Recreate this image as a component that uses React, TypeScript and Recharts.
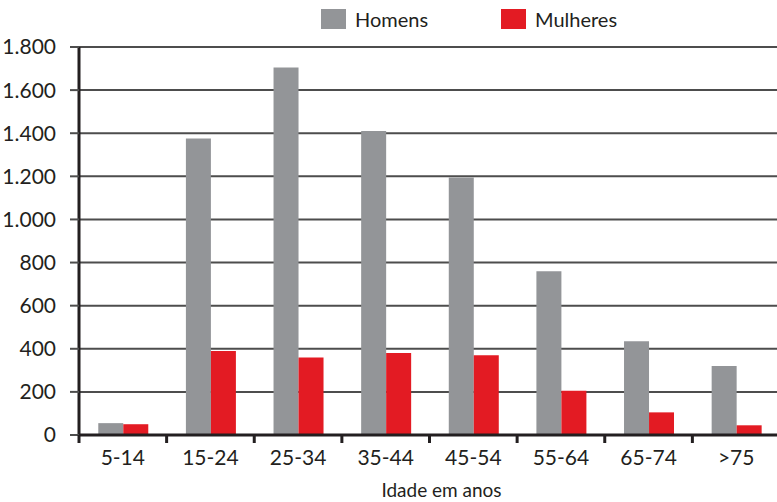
import { Bar, BarChart, CartesianGrid, Label, Legend, XAxis, YAxis } from "recharts";

const ageGroups = ["5-14", "15-24", "25-34", "35-44", "45-54", "55-64", "65-74", ">75"];
const homens = [55, 1375, 1705, 1410, 1195, 760, 435, 320];
const mulheres = [50, 390, 360, 380, 370, 205, 105, 45];
const yTicks = [0, 200, 400, 600, 800, 1000, 1200, 1400, 1600, 1800];

const GRAY = "#939598";
const RED = "#e31b23";
const INK = "#231f20";
const GRID = "#4d4d4d";
const FONT = "Lato, 'Open Sans', sans-serif";

const data = ageGroups.map((age, i) => ({
  age,
  homens: homens[i],
  mulheres: mulheres[i],
}));

// 1800 -> "1.800" (pt-PT thousands separator)
function fmtThousands(v: number): string {
  return String(v).replace(/\B(?=(\d{3})+(?!\d))/g, ".");
}

function AgeTick(props: any) {
  const { x, y, payload } = props;
  const half = payload?.offset ?? 0;
  const axisY = y - 15;
  return (
    <g>
      <line x1={x - half} x2={x - half} y1={axisY} y2={axisY + 8} stroke={INK} strokeWidth={3} />
      <text x={x} y={y} dy={15} textAnchor="middle" fill={INK} fontSize={21} fontFamily={FONT}>
        {payload.value}
      </text>
    </g>
  );
}

function TopLegend(props: any) {
  const items = props.payload ?? [];
  return (
    <div style={{ display: "flex", paddingLeft: 321, paddingTop: 9, fontFamily: FONT }}>
      {items.map((it: any) => (
        <div key={it.value} style={{ display: "flex", alignItems: "center", width: 180 }}>
          <span style={{ width: 25, height: 20, background: it.color, marginRight: 9 }} />
          <span style={{ fontSize: 20, color: INK, lineHeight: "20px" }}>{it.value}</span>
        </div>
      ))}
    </div>
  );
}

export default function App() {
  return (
    <div
      style={{
        position: "absolute",
        left: 0,
        top: 0,
        width: 777,
        height: 502,
        overflow: "hidden",
        background: "#fff",
      }}
    >
      <BarChart
        width={790}
        height={502}
        data={data}
        margin={{ top: 47, right: 10, left: 0, bottom: 0 }}
        barCategoryGap="22%"
        barGap={0}
      >
        <CartesianGrid vertical={false} stroke={GRID} strokeWidth={2} />
        <XAxis
          dataKey="age"
          height={67}
          axisLine={{ stroke: INK, strokeWidth: 3 }}
          tickLine={false}
          tickMargin={9}
          tick={<AgeTick />}
          interval={0}
        >
          <Label
            value="Idade em anos"
            position="insideBottom"
            offset={5}
            dx={12}
            fill={INK}
            fontSize={19}
            fontFamily={FONT}
          />
        </XAxis>
        <YAxis
          width={79}
          domain={[0, 1800]}
          ticks={yTicks}
          tickFormatter={fmtThousands}
          axisLine={{ stroke: INK, strokeWidth: 3 }}
          tickLine={{ stroke: GRID, strokeWidth: 2 }}
          tickSize={9}
          tickMargin={14}
          tick={{ fill: INK, fontSize: 21, fontFamily: FONT }}
          interval={0}
        />
        <Legend
          layout="horizontal"
          verticalAlign="middle"
          align="center"
          wrapperStyle={{ top: 0, left: 0, width: 777 }}
          content={<TopLegend />}
        />
        <Bar dataKey="homens" name="Homens" fill={GRAY} isAnimationActive={false} />
        <Bar dataKey="mulheres" name="Mulheres" fill={RED} isAnimationActive={false} />
      </BarChart>
    </div>
  );
}
